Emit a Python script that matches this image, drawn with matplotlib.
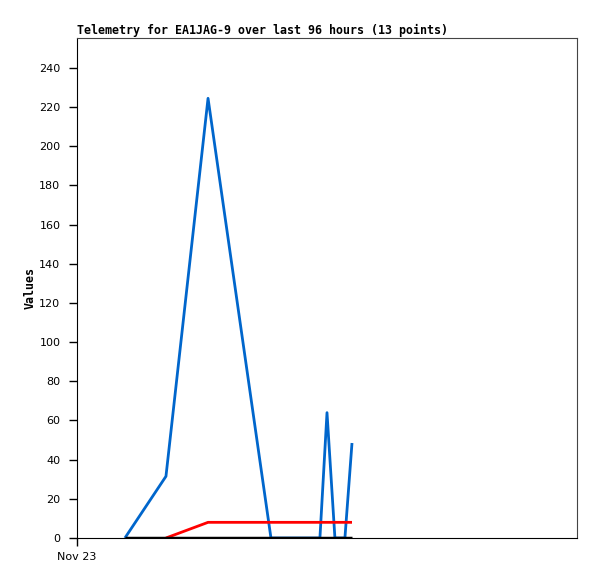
import matplotlib
matplotlib.use("Agg")
import matplotlib.pyplot as plt

# data: hours since Nov 23 00:00
blue_x = [2.30, 4.27, 6.29, 9.31, 11.66, 12.0, 12.38, 12.86, 13.2]
blue_y = [0, 31.5, 224.5, 0, 0, 64, 0, 0, 48.5]
red_x = [4.27, 6.29, 13.2]
red_y = [0, 8, 8]
black_x = [2.30, 13.2]
black_y = [0, 0]

yticks = [0, 20, 40, 60, 80, 100, 120, 140, 160, 180, 200, 220, 240]
xtick_pos = [0]
xtick_labels = ["Nov 23"]

fig = plt.figure(figsize=(5.97, 5.79), dpi=100)
ax = fig.add_axes([77/597, 41/579, 500/597, 500/579])

ax.plot(blue_x, blue_y, color="#0066cc", lw=2, solid_capstyle="butt")
ax.plot(red_x, red_y, color="#ff0000", lw=2, solid_capstyle="butt")
ax.plot(black_x, black_y, color="black", lw=2.5, solid_capstyle="butt")

ax.set_xlim(0, 24)
ax.set_ylim(0, 255.3)
ax.set_yticks(yticks)
ax.set_xticks(xtick_pos)
ax.set_xticklabels(xtick_labels)
ax.tick_params(axis="y", direction="out", length=6, width=1, labelsize=8, pad=6)
ax.tick_params(axis="x", direction="out", length=6, width=1, labelsize=8, pad=4)

for s in ["top", "right"]:
    ax.spines[s].set_color("#444444")
ax.spines["left"].set_color("black")
ax.spines["bottom"].set_color("black")

ax.set_ylabel("Values", family="DejaVu Sans Mono", fontweight="bold", fontsize=8.4, labelpad=2)
ax.set_title("Telemetry for EA1JAG-9 over last 96 hours (13 points)",
             family="DejaVu Sans Mono", fontweight="bold", fontsize=8.4, loc="left", pad=3)

fig.savefig("out.png", dpi=100)
